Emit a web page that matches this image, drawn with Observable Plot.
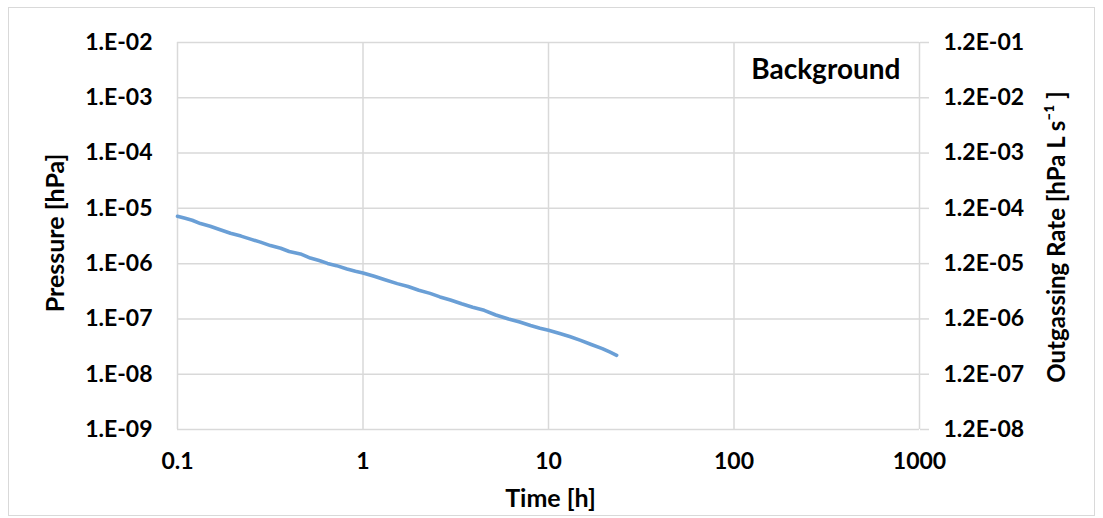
<!DOCTYPE html>
<html>
<head>
<meta charset="utf-8">
<script src="https://cdn.jsdelivr.net/npm/d3@7"></script>
<script src="https://cdn.jsdelivr.net/npm/@observablehq/plot@0.6"></script>
<style>
  html, body { margin: 0; padding: 0; background: #fff; }
  #wrap { position: relative; width: 1103px; height: 518px; }
  #border { position: absolute; left: 8px; top: 7px; width: 1087px; height: 509px; border: 1.5px solid #d9d9d9; box-sizing: border-box; pointer-events: none; }
</style>
</head>
<body>
<div id="wrap"><div id="border"></div></div>
<script>
// Background pump-down curve: chamber pressure versus elapsed time
const timeH = [0.1, 0.11, 0.12, 0.133, 0.15, 0.17, 0.193, 0.22, 0.25, 0.28, 0.317, 0.36, 0.40, 0.46, 0.52, 0.58, 0.644, 0.72, 0.82, 0.91,
  1.0, 1.15, 1.3, 1.53, 1.75, 2.0, 2.3, 2.6, 2.96, 3.4, 3.9, 4.5, 5.2, 6.09, 7.0, 8.0, 9.0, 10, 11.5, 13, 14.9, 17, 19.5, 21.5, 23.3];
const pressureHPa = [7.2e-6, 6.6e-6, 6.1e-6, 5.3e-6, 4.75e-6, 4.1e-6, 3.55e-6, 3.15e-6, 2.75e-6, 2.45e-6, 2.12e-6, 1.9e-6, 1.66e-6, 1.5e-6, 1.26e-6, 1.14e-6, 1.01e-6, 9.2e-7, 8.0e-7, 7.3e-7,
  6.8e-7, 5.9e-7, 5.15e-7, 4.35e-7, 3.85e-7, 3.3e-7, 2.9e-7, 2.5e-7, 2.2e-7, 1.88e-7, 1.63e-7, 1.43e-7, 1.18e-7, 1.0e-7, 8.8e-8, 7.6e-8, 6.8e-8, 6.25e-8, 5.45e-8, 4.8e-8, 4.1e-8, 3.45e-8, 2.9e-8, 2.5e-8, 2.2e-8];

// Axis ticks and their printed labels
const timeTicks = [0.1, 1, 10, 100, 1000];
const timeLabels = ["0.1", "1", "10", "100", "1000"];
const pressureTicks = [1e-2, 1e-3, 1e-4, 1e-5, 1e-6, 1e-7, 1e-8, 1e-9];
const pressureLabels = ["1.E-02", "1.E-03", "1.E-04", "1.E-05", "1.E-06", "1.E-07", "1.E-08", "1.E-09"];
const rateLabels = ["1.2E-01", "1.2E-02", "1.2E-03", "1.2E-04", "1.2E-05", "1.2E-06", "1.2E-07", "1.2E-08"];

const series = timeH.map((t, i) => ({t, p: pressureHPa[i]}));
const labelFor = (ticks, labels) => d => labels[ticks.findIndex(v => Math.abs(Math.log10(v) - Math.log10(d)) < 1e-6)];

const FONT = "Lato, 'Open Sans', sans-serif";
const grid = "#d9d9d9";

const chart = Plot.plot({
  width: 1103,
  height: 518,
  marginLeft: 177,
  marginRight: 184,
  marginTop: 42,
  marginBottom: 89,
  style: {fontFamily: FONT, fontWeight: "bold", fontSize: "23px", color: "#000", background: "transparent"},
  x: {type: "log", domain: [0.1, 1000]},
  y: {type: "log", domain: [1e-9, 1e-2]},
  marks: [
    Plot.gridX(timeTicks, {stroke: grid, strokeOpacity: 1, strokeWidth: 1.5}),
    Plot.gridY(pressureTicks, {stroke: grid, strokeOpacity: 1, strokeWidth: 1.5}),
    Plot.axisY(pressureTicks, {anchor: "left", tickSize: 0, tickPadding: 25, tickFormat: labelFor(pressureTicks, pressureLabels), fontSize: 23, fill: "#000", label: null}),
    Plot.axisY(pressureTicks, {anchor: "right", tickSize: 9, tickPadding: 15, stroke: grid, strokeWidth: 1.5, fill: "#000", tickFormat: labelFor(pressureTicks, rateLabels), fontSize: 23, label: null}),
    Plot.axisX(timeTicks, {anchor: "bottom", tickSize: 0, tickPadding: 23, tickFormat: labelFor(timeTicks, timeLabels), fontSize: 23, fill: "#000", label: null}),
    Plot.line(series, {x: "t", y: "p", stroke: "#6a9fd6", strokeWidth: 3.6}),
    Plot.text(["Background"], {frameAnchor: "top-right", dx: -19, dy: 28, fontSize: 28, fill: "#000", textAnchor: "end", lineAnchor: "middle"}),
    Plot.text(["Pressure [hPa]"], {frameAnchor: "left", dx: -122, dy: -3, rotate: -90, textAnchor: "middle", fontSize: 25, fill: "#000"}),
    Plot.text(["Outgassing Rate [hPa L s\u207B\u00B9 ]"], {frameAnchor: "right", dx: 138, dy: 1, rotate: -90, textAnchor: "middle", fontSize: 24, fill: "#000"}),
    Plot.text(["Time [h]"], {frameAnchor: "bottom", dx: 2, dy: 69, textAnchor: "middle", lineAnchor: "middle", fontSize: 25, fill: "#000"})
  ]
});
document.getElementById("wrap").prepend(chart);
</script>
</body>
</html>
